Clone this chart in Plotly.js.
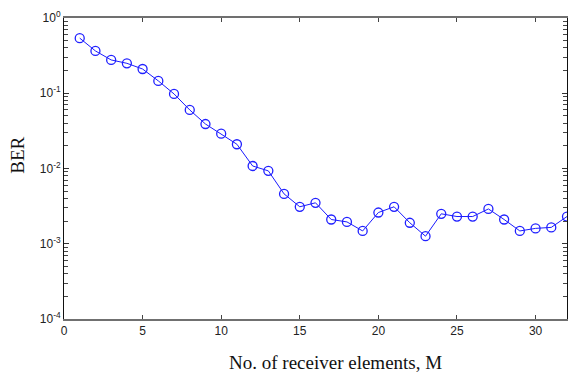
<!DOCTYPE html>
<html>
<head>
<meta charset="utf-8">
<script src="https://cdn.plot.ly/plotly-3.0.1.min.js"></script>
<style>
  html, body { margin: 0; padding: 0; background: #fff; }
  #chart { width: 568px; height: 376px; }
</style>
</head>
<body>
<div id="chart"></div>
<script>
// Number of receiver elements
const elements = [1, 2, 3, 4, 5, 6, 7, 8, 9, 10, 11, 12, 13, 14, 15, 16,
                  17, 18, 19, 20, 21, 22, 23, 24, 25, 26, 27, 28, 29, 30, 31, 32];
// Bit error rate for each array size
const ber = [0.54, 0.365, 0.277, 0.25, 0.21, 0.146, 0.098, 0.06,
             0.039, 0.029, 0.021, 0.0108, 0.0093, 0.0046, 0.0031, 0.0035,
             0.0021, 0.00195, 0.00148, 0.0026, 0.0031, 0.0019, 0.00126, 0.0025,
             0.0023, 0.0023, 0.0029, 0.0021, 0.00148, 0.0016, 0.00165, 0.0023];

// Decade exponents for the labelled log ticks
const decadeExponents = [-4, -3, -2, -1, 0];
const xTickVals = [0, 5, 10, 15, 20, 25, 30];

const yTickVals = decadeExponents.map(e => Math.pow(10, e));
const yTickText = decadeExponents.map(e => '10<sup>' + e + '</sup>');

// Unlabelled minor ticks at 2..9 within each decade
const yMinorVals = [];
decadeExponents.slice(0, -1).forEach(e => {
  for (let k = 2; k <= 9; k++) yMinorVals.push(k * Math.pow(10, e));
});

const trace = {
  x: elements,
  y: ber,
  type: 'scatter',
  mode: 'lines+markers',
  line: { color: '#1a1aff', width: 1 },
  marker: {
    symbol: 'circle-open',
    size: 9,
    color: '#2020ff',
    line: { width: 1.3, color: '#2020ff' }
  },
  cliponaxis: false,
  showlegend: false
};

const tickFont = { family: 'Liberation Sans, Arial, sans-serif', size: 12, color: '#222' };
const titleFont = { family: 'Liberation Serif, Times New Roman, serif', size: 19, color: '#111' };

const layout = {
  width: 568,
  height: 376,
  margin: { l: 64, r: 1, t: 18, b: 57 },
  paper_bgcolor: '#ffffff',
  plot_bgcolor: '#ffffff',
  font: tickFont,
  xaxis: {
    range: [0, 32],
    tickvals: xTickVals,
    ticks: 'inside',
    ticklen: 4,
    tickwidth: 1,
    tickcolor: '#444',
    showline: true,
    linecolor: '#707070',
    linewidth: 2,
    mirror: 'ticks',
    showgrid: false,
    zeroline: false,
    tickfont: tickFont
  },
  yaxis: {
    type: 'log',
    range: [-4, 0],
    tickvals: yTickVals,
    ticktext: yTickText,
    ticks: 'inside',
    ticklen: 5,
    tickwidth: 1,
    tickcolor: '#333',
    minor: {
      tickvals: yMinorVals,
      ticks: 'inside',
      ticklen: 4,
      tickwidth: 1,
      tickcolor: '#444',
      showgrid: false
    },
    showline: true,
    linecolor: '#111',
    linewidth: 1,
    mirror: 'ticks',
    showgrid: false,
    zeroline: false,
    tickfont: tickFont
  },
  annotations: [
    {
      text: 'No. of receiver elements, M',
      xref: 'paper', yref: 'paper',
      x: 0.54, y: -0.145,
      xanchor: 'center', yanchor: 'middle',
      showarrow: false,
      font: titleFont
    },
    {
      text: 'BER',
      xref: 'paper', yref: 'paper',
      x: -0.092, y: 0.545,
      xanchor: 'center', yanchor: 'middle',
      textangle: -90,
      showarrow: false,
      font: titleFont
    }
  ]
};

Plotly.newPlot('chart', [trace], layout, { staticPlot: true, displayModeBar: false });
</script>
</body>
</html>
